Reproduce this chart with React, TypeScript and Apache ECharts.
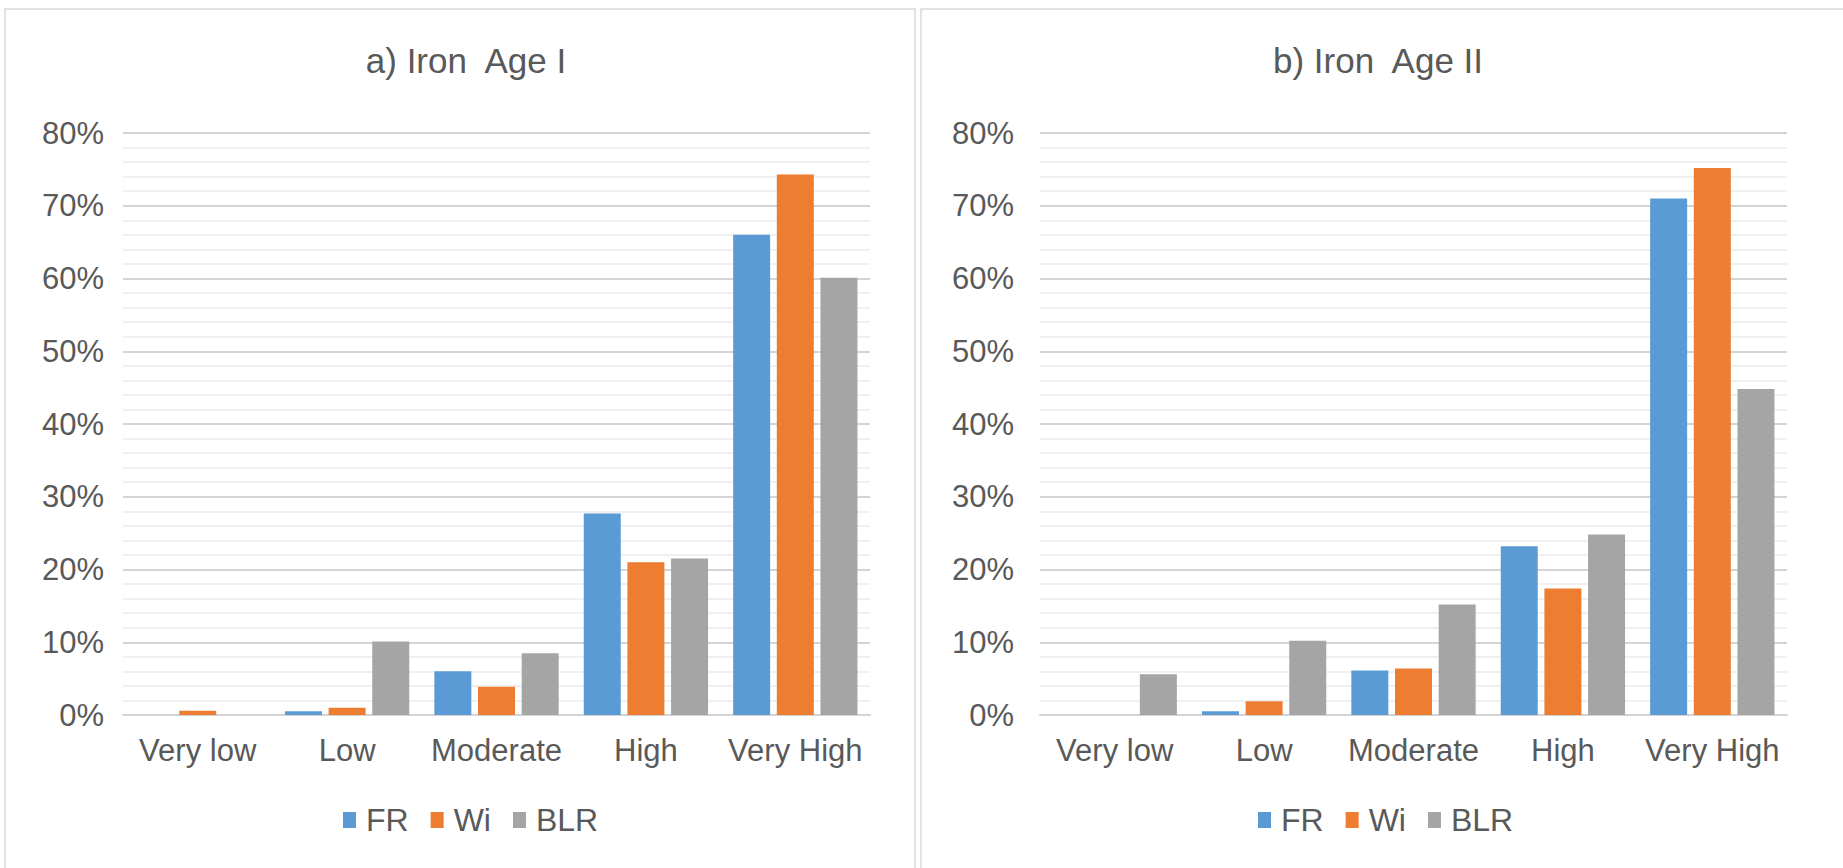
import React, { useEffect, useRef } from 'react';
import * as echarts from 'echarts';

const categories = ['Very low', 'Low', 'Moderate', 'High', 'Very High'];
const seriesNames = ['FR', 'Wi', 'BLR'];
const colors = ['#5B9BD5', '#ED7D31', '#A5A5A5'];

// Iron Age I (percent)
const ia1FR = [0, 0.5, 6.0, 27.7, 66.0];
const ia1Wi = [0.6, 1.0, 3.9, 21.0, 74.3];
const ia1BLR = [0, 10.1, 8.5, 21.5, 60.1];

// Iron Age II (percent)
const ia2FR = [0, 0.5, 6.1, 23.2, 71.0];
const ia2Wi = [0, 1.9, 6.4, 17.4, 75.2];
const ia2BLR = [5.6, 10.2, 15.2, 24.8, 44.8];

const titles = ['a) Iron  Age I', 'b) Iron  Age II'];

const FONT = '"Liberation Sans", Arial, sans-serif';
const TEXT = '#595959';

const W = 1843;
const H = 868;

const App: React.FC = () => {
  const chartRef = useRef<HTMLDivElement>(null);

  useEffect(() => {
    if (!chartRef.current) return;
    const chart = echarts.init(chartRef.current, null, { renderer: 'svg' });

    const panels = [
      { left: 123, right: W - 870, center: 461, legendLeft: 338, labelMargin: 19, data: [ia1FR, ia1Wi, ia1BLR] },
      { left: 1040, right: W - 1787, center: 1373, legendLeft: 1253, labelMargin: 26, data: [ia2FR, ia2Wi, ia2BLR] }
    ];

    const option: any = {
      animation: false,
      backgroundColor: '#fff',
      textStyle: { fontFamily: FONT },
      title: panels.map((p, i) => ({
        text: titles[i],
        left: p.center,
        top: 38,
        textAlign: 'center',
        textStyle: { fontFamily: FONT, fontSize: 35, fontWeight: 'normal', color: TEXT }
      })),
      legend: panels.map((p, i) => ({
        data: seriesNames.map((n) => n + (i === 0 ? '' : '\u200b')),
        left: p.legendLeft,
        top: 799,
        itemWidth: 13,
        itemHeight: 16,
        itemGap: 22,
        icon: 'rect',
        textStyle: { fontFamily: FONT, fontSize: 32, color: TEXT, padding: [0, 0, 0, 5] }
      })),
      grid: panels.map((p) => ({
        left: p.left,
        right: p.right,
        top: 133,
        bottom: H - 715,
        containLabel: false
      })),
      xAxis: panels.map((p, i) => ({
        type: 'category',
        gridIndex: i,
        data: categories,
        axisLine: { lineStyle: { color: '#d4d4d4', width: 2 } },
        axisTick: { show: false },
        axisLabel: { fontFamily: FONT, fontSize: 31, color: TEXT, margin: 20, interval: 0 }
      })),
      yAxis: panels.map((p, i) => ({
        type: 'value',
        gridIndex: i,
        min: 0,
        max: 80,
        interval: 10,
        axisLine: { show: false },
        axisTick: { show: false },
        axisLabel: { fontFamily: FONT, fontSize: 31, color: TEXT, margin: p.labelMargin, formatter: '{value}%' },
        splitLine: { lineStyle: { color: '#d4d4d4', width: 2 } },
        minorTick: { show: false, splitNumber: 5 },
        minorSplitLine: { show: true, lineStyle: { color: '#ebebeb', width: 1.5 } }
      })),
      series: panels.flatMap((p, i) =>
        seriesNames.map((n, k) => ({
          name: n + (i === 0 ? '' : '\u200b'),
          type: 'bar',
          xAxisIndex: i,
          yAxisIndex: i,
          data: p.data[k],
          barWidth: 37,
          barGap: '18%',
          itemStyle: { color: colors[k] }
        }))
      ),
      graphic: [
        {
          type: 'rect',
          shape: { x: 5, y: 9, width: 910, height: H + 20 },
          style: { fill: 'none', stroke: '#d9d9d9', lineWidth: 1.5 },
          z: -1
        },
        {
          type: 'rect',
          shape: { x: 921, y: 9, width: 940, height: H + 20 },
          style: { fill: 'none', stroke: '#d9d9d9', lineWidth: 1.5 },
          z: -1
        }
      ]
    };

    chart.setOption(option);
    return () => {
      chart.dispose();
    };
  }, []);

  return (
    <div
      ref={chartRef}
      style={{ position: 'absolute', left: 0, top: 0, width: W, height: H }}
    />
  );
};

export default App;
